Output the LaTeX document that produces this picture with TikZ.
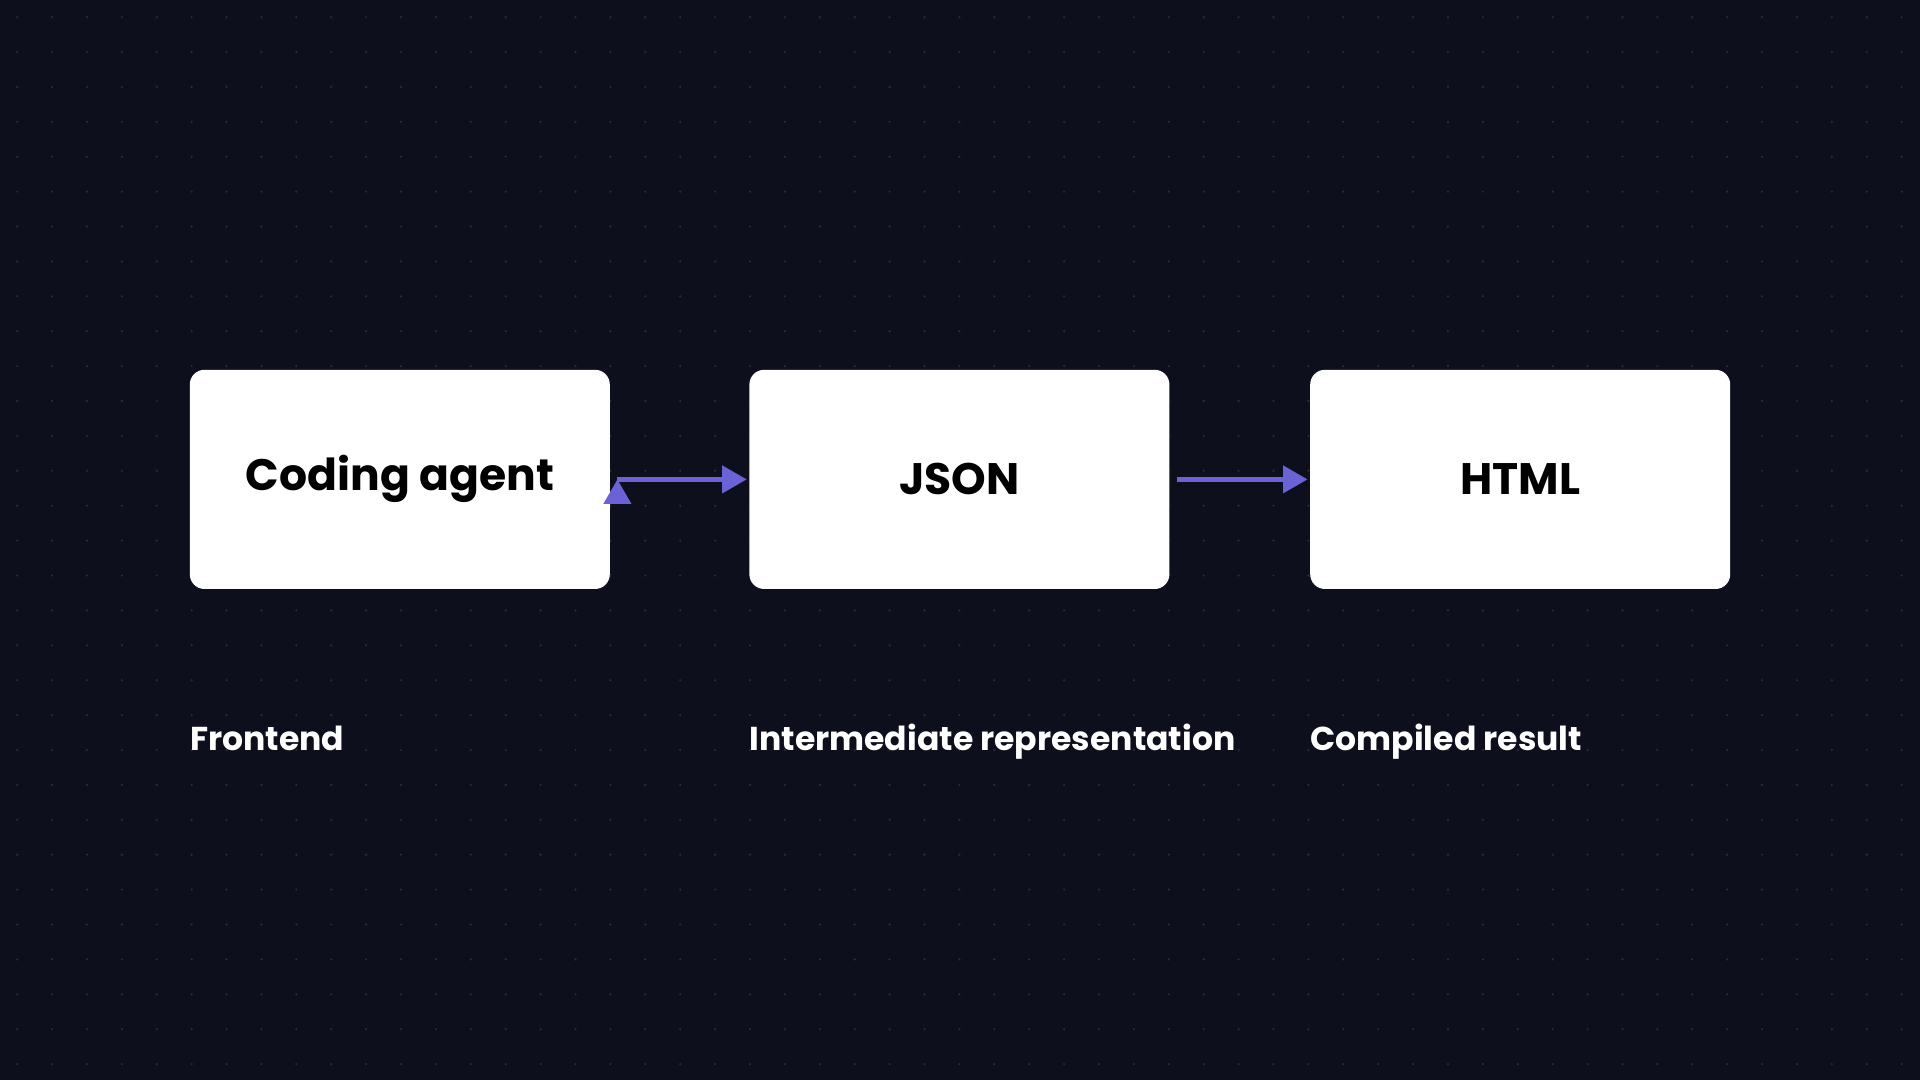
\documentclass[tikz,border=0pt]{standalone}
\usepackage{fontspec}
\setmainfont{Poppins}
\usetikzlibrary{arrows.meta}
\definecolor{bg}{HTML}{0E0F1D}
\definecolor{arr}{HTML}{6A62D6}
\definecolor{dot}{HTML}{2A2C3C}
\begin{document}
\begin{tikzpicture}[x=1pt,y=-1pt,
  box/.style={draw=none,fill=white,rounded corners=12pt,minimum width=343pt,minimum height=179pt,font=\fontsize{36}{40}\selectfont\bfseries,text=black},
  lab/.style={anchor=base west,text=white,font=\fontsize{27}{30}\selectfont\bfseries,inner sep=0pt},
  conn/.style={arr,line width=3.5pt,-{Triangle[length=20pt,width=22pt]}}]
\fill[bg] (0,0) rectangle (1568,882);
\useasboundingbox (0,0) rectangle (1568,882);
\foreach \i in {0,...,55}{\foreach \j in {0,...,31}{
  \fill[dot] (14+28.5*\i,14+28.5*\j) circle (1pt);}}
\node[box] (a) at (326.5,391.5) {Coding agent};
\node[box] (b) at (783.5,391.5) {JSON};
\node[box] (c) at (1241.5,391.5) {HTML};
\draw[conn] (a.east)++(6,0) coordinate (a1);
\draw[conn] ([xshift=6pt]a.east) -- ([xshift=-2pt]b.west);
\draw[conn] ([xshift=6pt]b.east) -- ([xshift=-2pt]c.west);
\node[lab] (l1) at (155,613) {Frontend};
\node[lab] (l2) at (612,613) {Intermediate representation};
\node[lab] (l3) at (1070,613) {Compiled result};
\end{tikzpicture}
\end{document}
